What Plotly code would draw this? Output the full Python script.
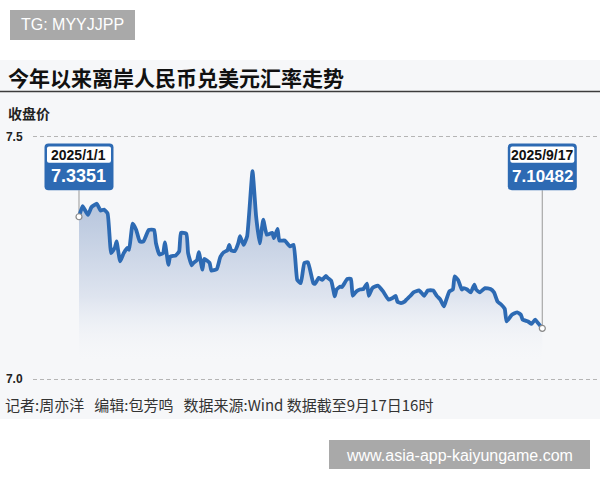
import plotly.graph_objects as go

# ---------------- data ----------------
dates = [
    "2025-01-01", "2025-01-03", "2025-01-06", "2025-01-08", "2025-01-11", "2025-01-13", "2025-01-15", "2025-01-17",
    "2025-01-19", "2025-01-21", "2025-01-22", "2025-01-24", "2025-01-26", "2025-01-28", "2025-01-29", "2025-01-31",
    "2025-02-02", "2025-02-04", "2025-02-06", "2025-02-09", "2025-02-12", "2025-02-13", "2025-02-15", "2025-02-17",
    "2025-02-18", "2025-02-20", "2025-02-21", "2025-02-24", "2025-02-26", "2025-02-27",
    "2025-03-02", "2025-03-03", "2025-03-05", "2025-03-06", "2025-03-08", "2025-03-09", "2025-03-11", "2025-03-12",
    "2025-03-15", "2025-03-16", "2025-03-19", "2025-03-21", "2025-03-23", "2025-03-25", "2025-03-26", "2025-03-27",
    "2025-03-29", "2025-03-31",
    "2025-04-01", "2025-04-03", "2025-04-05", "2025-04-08", "2025-04-10", "2025-04-12", "2025-04-14", "2025-04-16",
    "2025-04-19", "2025-04-20", "2025-04-22", "2025-04-23", "2025-04-26", "2025-04-29",
    "2025-05-01", "2025-05-03", "2025-05-05", "2025-05-07", "2025-05-09", "2025-05-12", "2025-05-13", "2025-05-15",
    "2025-05-17", "2025-05-19", "2025-05-20", "2025-05-22", "2025-05-24", "2025-05-25", "2025-05-27", "2025-05-28",
    "2025-05-31",
    "2025-06-02", "2025-06-03", "2025-06-05", "2025-06-07", "2025-06-09", "2025-06-11", "2025-06-12", "2025-06-14",
    "2025-06-17", "2025-06-20", "2025-06-23", "2025-06-25", "2025-06-27", "2025-06-28", "2025-06-30",
    "2025-07-02", "2025-07-03", "2025-07-05", "2025-07-07", "2025-07-10", "2025-07-12", "2025-07-13", "2025-07-15",
    "2025-07-18", "2025-07-20", "2025-07-22", "2025-07-24", "2025-07-25", "2025-07-27", "2025-07-29", "2025-07-30",
    "2025-08-01", "2025-08-03", "2025-08-04", "2025-08-06", "2025-08-08", "2025-08-10", "2025-08-11", "2025-08-13",
    "2025-08-16", "2025-08-19", "2025-08-21", "2025-08-23", "2025-08-25", "2025-08-27", "2025-08-28", "2025-08-31",
    "2025-09-03", "2025-09-05", "2025-09-06", "2025-09-09", "2025-09-11", "2025-09-13", "2025-09-15", "2025-09-17",
]
values = [
    7.3351, 7.357, 7.339, 7.355, 7.362, 7.348, 7.350, 7.342,
    7.260, 7.271, 7.284, 7.243, 7.260, 7.271, 7.267, 7.321,
    7.308, 7.284, 7.284, 7.308, 7.308, 7.281, 7.257, 7.260,
    7.282, 7.236, 7.253, 7.255, 7.264, 7.302,
    7.300, 7.260, 7.235, 7.240, 7.246, 7.262, 7.226, 7.248,
    7.240, 7.224, 7.227, 7.252, 7.262, 7.266, 7.277, 7.266,
    7.264, 7.280,
    7.295, 7.277, 7.295, 7.429, 7.336, 7.280, 7.329, 7.298,
    7.302, 7.291, 7.310, 7.286, 7.286, 7.274,
    7.277, 7.205, 7.198, 7.240, 7.241, 7.198, 7.197, 7.209,
    7.205, 7.213, 7.209, 7.203, 7.171, 7.185, 7.191, 7.190,
    7.207,
    7.207, 7.172, 7.181, 7.185, 7.186, 7.197, 7.172, 7.188,
    7.193, 7.181, 7.164, 7.167, 7.172, 7.160, 7.157,
    7.160, 7.164, 7.171, 7.179, 7.183, 7.176, 7.172, 7.183,
    7.183, 7.172, 7.164, 7.150, 7.160, 7.181, 7.185, 7.212,
    7.204, 7.185, 7.188, 7.185, 7.179, 7.195, 7.185, 7.179,
    7.188, 7.186, 7.179, 7.160, 7.154, 7.145, 7.119, 7.133,
    7.138, 7.133, 7.123, 7.119, 7.114, 7.123, 7.114, 7.10482,
]
y_tick_vals = [7.0, 7.5]
y_tick_text = ["7.0", "7.5"]
callout_dates = ["2025/1/1", "2025/9/17"]
callout_values = ["7.3351", "7.10482"]

title_text = "今年以来离岸人民币兑美元汇率走势"
unit_text = "收盘价"
footer_text = "记者:周亦洋\u00a0\u00a0\u00a0编辑:包芳鸣\u00a0\u00a0\u00a0数据来源:Wind 数据截至9月17日16时"
wm_top = "TG: MYYJJPP"
wm_bottom = "www.asia-app-kaiyungame.com"

# ---------------- layout geometry ----------------
W, H = 600, 480
PAD = 0.01                      # small padding so the 7.0 / 7.5 gridlines are drawn
PX_PER_UNIT = 484.0
ML, MR = 33, 0
MT = round(137.3 - PAD * PX_PER_UNIT)
MB = round(100.7 - PAD * PX_PER_UNIT)
PW, PH = W - ML - MR, H - MT - MB
Y_RANGE = [7.0 - PAD, 7.5 + PAD]
Y_TOP = 7.5
X_RANGE = ["2024-12-06 07:00", "2025-10-19 06:00"]

BLUE = "#2d6ab3"
PANEL = "#f6f7f9"
CJK = "Noto Sans CJK SC"
NUM = "Liberation Sans, Arial"


def fx(px):
    return (px - ML) / PW


def fy(py):
    return (H - MB - py) / PH


fig = go.Figure()

# area + line
fig.add_trace(go.Scatter(
    x=dates, y=values, mode="lines",
    line=dict(color=BLUE, width=3.8, shape="spline", smoothing=0.4),
    fill="tozeroy",
    fillgradient=dict(type="vertical", start=7.03, stop=7.43,
                      colorscale=[[0, "rgba(246,247,249,0)"], [0.35, "rgba(222,228,239,1)"],
                                  [1, "rgba(168,186,214,1)"]]),
    hoverinfo="skip", showlegend=False,
))

# end markers
fig.add_trace(go.Scatter(
    x=[dates[0], dates[-1]], y=[values[0], values[-1]], mode="markers",
    marker=dict(size=6, color="white", line=dict(color="#8a8a8a", width=1.2)),
    hoverinfo="skip", showlegend=False,
))

shapes = []
annotations = []

# background panel
shapes.append(dict(type="rect", xref="paper", yref="paper", x0=fx(0), x1=fx(W), y0=fy(419), y1=fy(60),
                   fillcolor=PANEL, line=dict(width=0), layer="below"))
# title underline
shapes.append(dict(type="line", xref="paper", yref="paper", x0=fx(0), x1=fx(W), y0=fy(91.5), y1=fy(91.5),
                   line=dict(color="#3c3c3c", width=1.6), layer="above"))
# watermark boxes
shapes.append(dict(type="rect", xref="paper", yref="paper", x0=fx(10), x1=fx(135), y0=fy(40), y1=fy(10),
                   fillcolor="#a9a9a9", line=dict(width=0), layer="above"))
shapes.append(dict(type="rect", xref="paper", yref="paper", x0=fx(329), x1=fx(590), y0=fy(469), y1=fy(440),
                   fillcolor="#a9a9a9", line=dict(width=0), layer="above"))


def rounded(x0, x1, yt, yb, r):
    return (f"M{x0 + r},{yt} L{x1 - r},{yt} Q{x1},{yt} {x1},{yt - r} L{x1},{yb + r} "
            f"Q{x1},{yb} {x1 - r},{yb} L{x0 + r},{yb} Q{x0},{yb} {x0},{yb + r} "
            f"L{x0},{yt - r} Q{x0},{yt} {x0 + r},{yt} Z")


# callouts (pixel offsets relative to the point's date and the 7.5 line)
BOX_TOP, BOX_BOT = -6.7, -53.4
IN_TOP, IN_BOT = -9.7, -25.8
box_bottom_val = Y_TOP - (-BOX_BOT) / PX_PER_UNIT
for i, idx in enumerate([0, len(dates) - 1]):
    d = dates[idx]
    v = values[idx]
    shapes.append(dict(type="line", xref="x", yref="y", x0=d, x1=d, y0=v, y1=box_bottom_val,
                       line=dict(color="#a8a8a8", width=1.2), layer="between"))
    shapes.append(dict(type="path", xref="x", yref="y", xsizemode="pixel", ysizemode="pixel",
                       xanchor=d, yanchor=Y_TOP,
                       path=rounded(-34.5, 34.5, BOX_TOP, BOX_BOT, 4),
                       fillcolor=BLUE, line=dict(width=0), layer="above"))
    shapes.append(dict(type="path", xref="x", yref="y", xsizemode="pixel", ysizemode="pixel",
                       xanchor=d, yanchor=Y_TOP,
                       path=rounded(-32, 32, IN_TOP, IN_BOT, 2),
                       fillcolor="white", line=dict(width=0), layer="above"))
    annotations.append(dict(x=d, y=Y_TOP, xref="x", yref="y", yshift=-18, xanchor="center",
                            yanchor="middle", showarrow=False, text=callout_dates[i],
                            font=dict(family=NUM, size=14, color="#111111", weight="bold")))
    annotations.append(dict(x=d, y=Y_TOP, xref="x", yref="y", yshift=-39.5, xanchor="center",
                            yanchor="middle", showarrow=False, text=callout_values[i],
                            font=dict(family=NUM, size=18 if len(callout_values[i]) < 7 else 17,
                                      color="white", weight="bold")))

# texts
annotations.append(dict(x=fx(6), y=fy(77), xref="paper", yref="paper", xanchor="left", yanchor="middle",
                        showarrow=False, text=title_text,
                        font=dict(family=CJK, size=21, color="#111111", weight="bold")))
annotations.append(dict(x=fx(6), y=fy(113), xref="paper", yref="paper", xanchor="left", yanchor="middle",
                        showarrow=False, text=unit_text,
                        font=dict(family=CJK, size=14, color="#222222", weight="bold")))
annotations.append(dict(x=fx(3), y=fy(404), xref="paper", yref="paper", xanchor="left", yanchor="middle",
                        showarrow=False, text=footer_text,
                        font=dict(family=CJK, size=15, color="#333333")))
annotations.append(dict(x=fx(72.5), y=fy(25), xref="paper", yref="paper", xanchor="center", yanchor="middle",
                        showarrow=False, text=wm_top,
                        font=dict(family="Liberation Sans, Arial", size=16, color="white")))
annotations.append(dict(x=fx(459.5), y=fy(455), xref="paper", yref="paper", xanchor="center", yanchor="middle",
                        showarrow=False, text=wm_bottom,
                        font=dict(family="Liberation Sans, Arial", size=16, color="white")))

fig.update_layout(
    width=W, height=H,
    margin=dict(l=ML, r=MR, t=MT, b=MB, pad=0),
    paper_bgcolor="white", plot_bgcolor="rgba(0,0,0,0)",
    shapes=shapes, annotations=annotations,
    showlegend=False,
    xaxis=dict(range=X_RANGE, type="date", visible=False, showgrid=False, zeroline=False, fixedrange=True),
    yaxis=dict(range=Y_RANGE, tickvals=y_tick_vals, ticktext=y_tick_text, showgrid=True,
               gridcolor="#b5b5b5", gridwidth=1, griddash="4px,3px", zeroline=False, showline=False,
               ticks="outside", ticklen=7, tickcolor="rgba(0,0,0,0)", automargin=False,
               tickfont=dict(family=NUM, size=12, color="#222222", weight="bold"), fixedrange=True),
)

fig.write_html("out.html", config={"displayModeBar": False, "staticPlot": True},
               post_script="document.body.style.margin='0';document.body.style.overflow='hidden';")
